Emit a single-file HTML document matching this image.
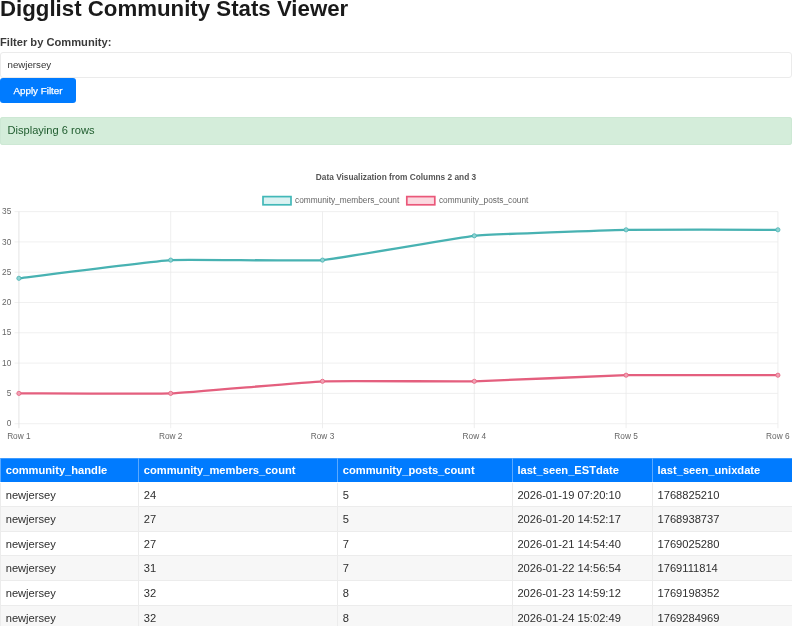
<!DOCTYPE html>
<html><head><meta charset="utf-8">
<style>
html,body{margin:0;padding:0;background:#fff;}
body{width:792px;height:626px;overflow:hidden;position:relative;font-family:"Liberation Sans",Arial,sans-serif;color:#212529;}
h1{position:absolute;left:0;top:-4.5px;margin:0;font-size:22.25px;line-height:26px;font-weight:bold;color:#1a1a1a;white-space:nowrap;}
.lbl{position:absolute;left:0;top:36px;font-size:11.15px;line-height:13px;font-weight:bold;color:#3a3a3a;white-space:nowrap;}
.inp{position:absolute;left:0;top:51.8px;width:790px;height:24.4px;border:1px solid #ebebeb;border-radius:3px;font-size:9.7px;line-height:24.4px;color:#333;}
.inp span{position:absolute;left:6.5px;top:0.6px;}
.btn{position:absolute;left:0;top:78.3px;width:76px;height:24.5px;-webkit-text-stroke:0.25px #fff;background:#007bff;border-radius:3px;color:#fff;font-size:9.8px;line-height:25.4px;text-align:center;}
.alert{position:absolute;left:0;top:117px;width:792px;height:28px;background:#d4edda;border-radius:3px;color:#1f5c2e;font-size:11.1px;line-height:27px;box-shadow:inset 0 0 0 1px #cde8d4;}
.alert span{position:absolute;left:7.5px;}
svg{position:absolute;left:0;top:160px;}
.tbl{position:absolute;left:0;top:0;width:792px;font-size:11.15px;color:#2e2e2e;}
.tr{position:absolute;left:0;width:792px;box-sizing:border-box;border-top:1px solid #ececec;background:#fff;}
.tr.first{border-top-color:#fff;}

.tr.alt{background:#f7f7f7;}
.tr.th{background:#007bff;color:#fff;font-weight:bold;border-top:1px solid #3d9aff;}
.c{position:absolute;top:0;height:calc(100% + 1px);box-sizing:border-box;padding-left:4.7px;border-left:1px solid #ececec;white-space:nowrap;}
.th .c{border-left:1px solid #5aa9ff;top:-1px;}
</style></head><body>
<h1>Digglist Community Stats Viewer</h1>
<div class="lbl">Filter by Community:</div>
<div class="inp"><span>newjersey</span></div>
<div class="btn">Apply Filter</div>
<div class="alert"><span>Displaying 6 rows</span></div>
<svg width="792" height="290" viewBox="0 160 792 290" font-family="Liberation Sans, Arial, sans-serif">
<line x1="14.5" y1="423.7" x2="777.9" y2="423.7" stroke="#eaeaea" stroke-width="0.7"/>
<line x1="14.5" y1="393.4" x2="777.9" y2="393.4" stroke="#eaeaea" stroke-width="0.7"/>
<line x1="14.5" y1="363.1" x2="777.9" y2="363.1" stroke="#eaeaea" stroke-width="0.7"/>
<line x1="14.5" y1="332.8" x2="777.9" y2="332.8" stroke="#eaeaea" stroke-width="0.7"/>
<line x1="14.5" y1="302.5" x2="777.9" y2="302.5" stroke="#eaeaea" stroke-width="0.7"/>
<line x1="14.5" y1="272.2" x2="777.9" y2="272.2" stroke="#eaeaea" stroke-width="0.7"/>
<line x1="14.5" y1="241.9" x2="777.9" y2="241.9" stroke="#eaeaea" stroke-width="0.7"/>
<line x1="14.5" y1="211.6" x2="777.9" y2="211.6" stroke="#eaeaea" stroke-width="0.7"/>
<line x1="18.9" y1="211.6" x2="18.9" y2="428.2" stroke="#dedede" stroke-width="0.8"/>
<line x1="170.7" y1="211.6" x2="170.7" y2="428.2" stroke="#eaeaea" stroke-width="0.8"/>
<line x1="322.5" y1="211.6" x2="322.5" y2="428.2" stroke="#eaeaea" stroke-width="0.8"/>
<line x1="474.3" y1="211.6" x2="474.3" y2="428.2" stroke="#eaeaea" stroke-width="0.8"/>
<line x1="626.1" y1="211.6" x2="626.1" y2="428.2" stroke="#eaeaea" stroke-width="0.8"/>
<line x1="777.9" y1="211.6" x2="777.9" y2="428.2" stroke="#eaeaea" stroke-width="0.8"/>
<text x="11.3" y="426.3" text-anchor="end" font-size="8.3" fill="#666">0</text>
<text x="11.3" y="396.0" text-anchor="end" font-size="8.3" fill="#666">5</text>
<text x="11.3" y="365.7" text-anchor="end" font-size="8.3" fill="#666">10</text>
<text x="11.3" y="335.4" text-anchor="end" font-size="8.3" fill="#666">15</text>
<text x="11.3" y="305.1" text-anchor="end" font-size="8.3" fill="#666">20</text>
<text x="11.3" y="274.8" text-anchor="end" font-size="8.3" fill="#666">25</text>
<text x="11.3" y="244.5" text-anchor="end" font-size="8.3" fill="#666">30</text>
<text x="11.3" y="214.2" text-anchor="end" font-size="8.3" fill="#666">35</text>
<text x="18.9" y="438.9" text-anchor="middle" font-size="8.3" fill="#666">Row 1</text>
<text x="170.7" y="438.9" text-anchor="middle" font-size="8.3" fill="#666">Row 2</text>
<text x="322.5" y="438.9" text-anchor="middle" font-size="8.3" fill="#666">Row 3</text>
<text x="474.3" y="438.9" text-anchor="middle" font-size="8.3" fill="#666">Row 4</text>
<text x="626.1" y="438.9" text-anchor="middle" font-size="8.3" fill="#666">Row 5</text>
<text x="789.6" y="438.9" text-anchor="end" font-size="8.3" fill="#666">Row 6</text>
<text x="396" y="179.9" text-anchor="middle" font-size="8.3" font-weight="bold" fill="#555">Data Visualization from Columns 2 and 3</text>
<rect x="263" y="196.6" width="28" height="8.2" fill="#dbf2f2" stroke="#42b8b8" stroke-width="1.7"/>
<text x="295" y="203" font-size="8.3" fill="#666">community_members_count</text>
<rect x="406.8" y="196.6" width="28" height="8.2" fill="#fbd9e0" stroke="#ea587a" stroke-width="1.7"/>
<text x="438.9" y="203" font-size="8.3" fill="#666">community_posts_count</text>
<path d="M18.9 278.3 C34.1 276.4 155.5 261.0 170.7 260.1 C185.8 259.2 307.4 261.3 322.5 260.1 C337.8 258.9 459.0 237.4 474.3 235.8 C489.4 234.3 610.9 230.1 626.1 229.8 C641.3 229.5 762.7 229.8 777.9 229.8" fill="none" stroke="#48b2b2" stroke-width="2.3" stroke-linejoin="round"/>
<circle cx="18.9" cy="278.3" r="2.1" fill="#8fd3d3" stroke="#48b2b2" stroke-width="0.8"/>
<circle cx="170.7" cy="260.1" r="2.1" fill="#8fd3d3" stroke="#48b2b2" stroke-width="0.8"/>
<circle cx="322.5" cy="260.1" r="2.1" fill="#8fd3d3" stroke="#48b2b2" stroke-width="0.8"/>
<circle cx="474.3" cy="235.8" r="2.1" fill="#8fd3d3" stroke="#48b2b2" stroke-width="0.8"/>
<circle cx="626.1" cy="229.8" r="2.1" fill="#8fd3d3" stroke="#48b2b2" stroke-width="0.8"/>
<circle cx="777.9" cy="229.8" r="2.1" fill="#8fd3d3" stroke="#48b2b2" stroke-width="0.8"/>
<path d="M18.9 393.4 C34.1 393.4 155.5 394.0 170.7 393.4 C185.9 392.8 307.3 381.9 322.5 381.3 C337.7 380.7 459.1 381.6 474.3 381.3 C489.5 381.0 610.9 375.5 626.1 375.2 C641.3 374.9 762.7 375.2 777.9 375.2" fill="none" stroke="#e45f7e" stroke-width="2.3" stroke-linejoin="round"/>
<circle cx="18.9" cy="393.4" r="2.1" fill="#f0a0b3" stroke="#e45f7e" stroke-width="0.8"/>
<circle cx="170.7" cy="393.4" r="2.1" fill="#f0a0b3" stroke="#e45f7e" stroke-width="0.8"/>
<circle cx="322.5" cy="381.3" r="2.1" fill="#f0a0b3" stroke="#e45f7e" stroke-width="0.8"/>
<circle cx="474.3" cy="381.3" r="2.1" fill="#f0a0b3" stroke="#e45f7e" stroke-width="0.8"/>
<circle cx="626.1" cy="375.2" r="2.1" fill="#f0a0b3" stroke="#e45f7e" stroke-width="0.8"/>
<circle cx="777.9" cy="375.2" r="2.1" fill="#f0a0b3" stroke="#e45f7e" stroke-width="0.8"/>

</svg>
<div class="tbl">
<div class="tr th" style="top:457.6px;height:24.0px;line-height:24.0px">
<div class="c" style="left:0.0px;width:138.1px">community_handle</div>
<div class="c" style="left:138.1px;width:199.0px">community_members_count</div>
<div class="c" style="left:337.1px;width:174.6px">community_posts_count</div>
<div class="c" style="left:511.7px;width:140.1px">last_seen_ESTdate</div>
<div class="c" style="left:651.8px;width:140.2px">last_seen_unixdate</div>
</div>
<div class="tr first" style="top:481.6px;height:24.6px;line-height:24.8px">
<div class="c" style="left:0.0px;width:138.1px">newjersey</div>
<div class="c" style="left:138.1px;width:199.0px">24</div>
<div class="c" style="left:337.1px;width:174.6px">5</div>
<div class="c" style="left:511.7px;width:140.1px">2026-01-19 07:20:10</div>
<div class="c" style="left:651.8px;width:140.2px">1768825210</div>
</div>
<div class="tr alt" style="top:506.2px;height:24.6px;line-height:24.8px">
<div class="c" style="left:0.0px;width:138.1px">newjersey</div>
<div class="c" style="left:138.1px;width:199.0px">27</div>
<div class="c" style="left:337.1px;width:174.6px">5</div>
<div class="c" style="left:511.7px;width:140.1px">2026-01-20 14:52:17</div>
<div class="c" style="left:651.8px;width:140.2px">1768938737</div>
</div>
<div class="tr" style="top:530.7px;height:24.6px;line-height:24.8px">
<div class="c" style="left:0.0px;width:138.1px">newjersey</div>
<div class="c" style="left:138.1px;width:199.0px">27</div>
<div class="c" style="left:337.1px;width:174.6px">7</div>
<div class="c" style="left:511.7px;width:140.1px">2026-01-21 14:54:40</div>
<div class="c" style="left:651.8px;width:140.2px">1769025280</div>
</div>
<div class="tr alt" style="top:555.3px;height:24.6px;line-height:24.8px">
<div class="c" style="left:0.0px;width:138.1px">newjersey</div>
<div class="c" style="left:138.1px;width:199.0px">31</div>
<div class="c" style="left:337.1px;width:174.6px">7</div>
<div class="c" style="left:511.7px;width:140.1px">2026-01-22 14:56:54</div>
<div class="c" style="left:651.8px;width:140.2px">1769111814</div>
</div>
<div class="tr" style="top:579.9px;height:24.6px;line-height:24.8px">
<div class="c" style="left:0.0px;width:138.1px">newjersey</div>
<div class="c" style="left:138.1px;width:199.0px">32</div>
<div class="c" style="left:337.1px;width:174.6px">8</div>
<div class="c" style="left:511.7px;width:140.1px">2026-01-23 14:59:12</div>
<div class="c" style="left:651.8px;width:140.2px">1769198352</div>
</div>
<div class="tr alt" style="top:604.5px;height:24.6px;line-height:24.8px">
<div class="c" style="left:0.0px;width:138.1px">newjersey</div>
<div class="c" style="left:138.1px;width:199.0px">32</div>
<div class="c" style="left:337.1px;width:174.6px">8</div>
<div class="c" style="left:511.7px;width:140.1px">2026-01-24 15:02:49</div>
<div class="c" style="left:651.8px;width:140.2px">1769284969</div>
</div>
</div>





</body></html>
